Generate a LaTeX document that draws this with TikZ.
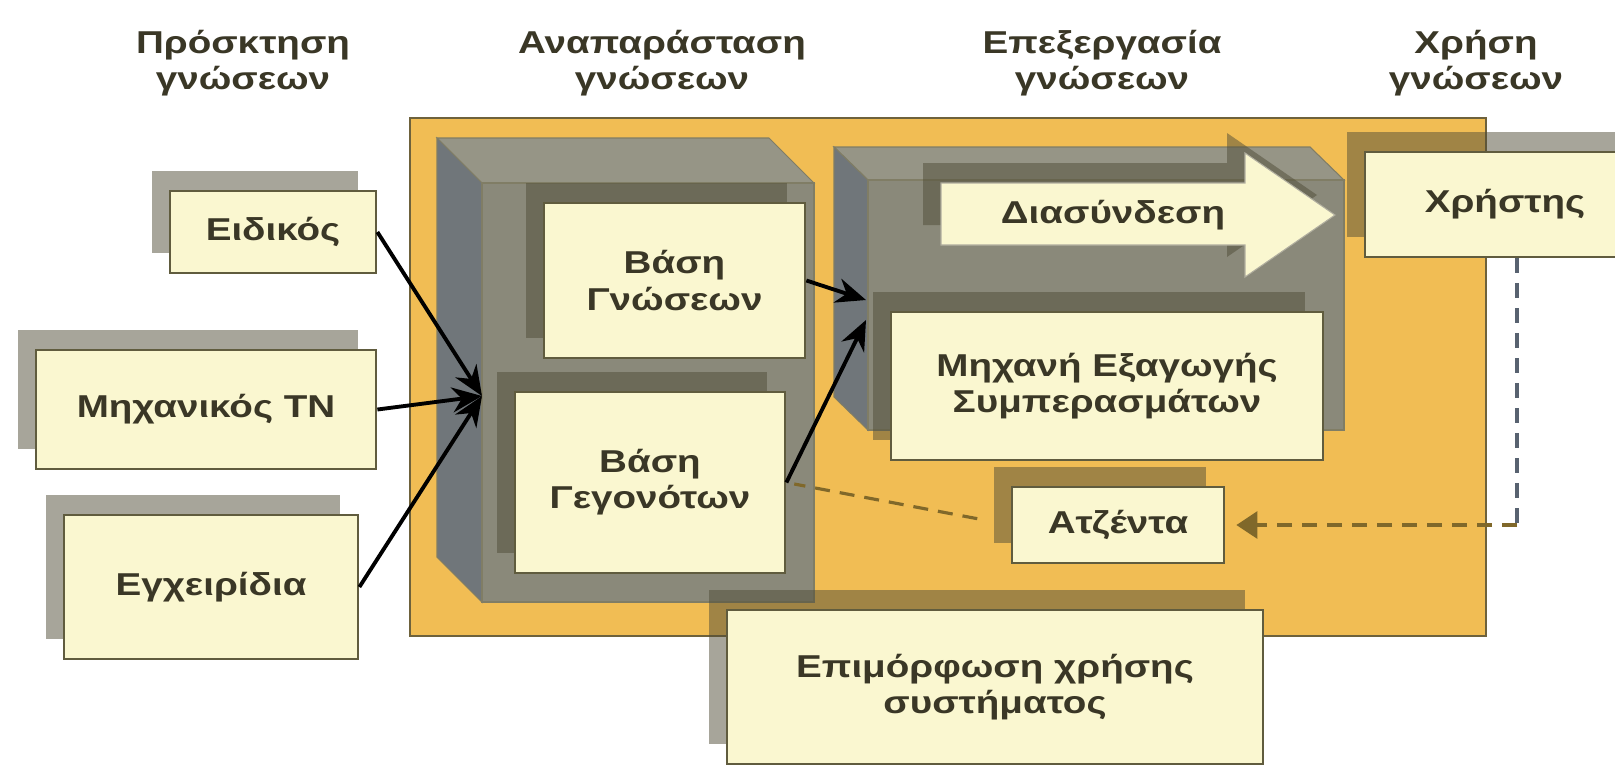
\documentclass[tikz,border=0pt]{standalone}
\usepackage{fontspec}
\newfontfamily\grfont{Liberation Sans}[FakeStretch=1.22]
\usetikzlibrary{arrows.meta, shadows, positioning}

\definecolor{boxfill}{RGB}{250,247,208}
\definecolor{boxline}{RGB}{96,92,62}
\definecolor{labeltext}{RGB}{58,55,38}
\definecolor{panelfill}{RGB}{241,189,84}
\definecolor{panelline}{RGB}{110,98,60}
\definecolor{frontgray}{RGB}{138,137,122}
\definecolor{topgray}{RGB}{150,149,134}
\definecolor{sidegray}{RGB}{112,118,122}
\definecolor{shadowgray}{RGB}{80,76,55}
\definecolor{dashbrown}{RGB}{128,104,42}
\definecolor{dashslate}{RGB}{88,98,112}

\begin{document}
\begin{tikzpicture}[x=0.02cm, y=-0.02cm, font=\grfont\bfseries\fontsize{18}{20.5}\selectfont, text=labeltext]
	\tikzset{
		raised/.style={drop shadow={shadow xshift=-0.36cm, shadow yshift=0.4cm, fill=shadowgray, opacity=0.5}},
		card/.style={draw=boxline, line width=1.6pt, fill=boxfill, align=center, inner sep=0pt},
		lifted/.style={card, raised},
		heading/.style={align=center},
		face/.style={draw=boxline!80, line width=0.6pt},
		link/.style={line width=2.2pt, -{Stealth[length=0.6cm, width=0.5cm]}},
		feedback/.style={line width=1.8pt, dash pattern=on 0.3cm off 0.2cm}
	}
	\clip (0,0) rectangle (1615,769);
	\fill[white] (0,0) rectangle (1615,769);

	% column titles
	\node[heading] (hacq) at (243,63) {Πρόσκτηση\\γνώσεων};
	\node[heading] (hrep) at (662,63) {Αναπαράσταση\\γνώσεων};
	\node[heading] (hproc) at (1102,63) {Επεξεργασία\\γνώσεων};
	\node[heading] (huse) at (1476,63) {Χρήση\\γνώσεων};

	% system panel
	\draw[fill=panelfill, draw=panelline, line width=1.6pt] (410,118) rectangle (1486,636);

	% knowledge block
	\filldraw[face, fill=topgray] (437,138) -- (769,138) -- (814,183) -- (482,183) -- cycle;
	\filldraw[face, fill=sidegray] (437,138) -- (482,183) -- (482,602) -- (437,557) -- cycle;
	\filldraw[face, fill=frontgray] (482,183) rectangle (814,602);

	% inference block
	\filldraw[face, fill=topgray] (834,147) -- (1310,147) -- (1344,180) -- (868,180) -- cycle;
	\filldraw[face, fill=sidegray] (834,147) -- (868,180) -- (868,430) -- (834,397) -- cycle;
	\filldraw[face, fill=frontgray] (868,180) rectangle (1344,430);

	\node[lifted, minimum width=5.22cm, minimum height=3.1cm] (kbase) at (674.5,280.5) {Βάση\\Γνώσεων};
	\node[lifted, minimum width=5.4cm, minimum height=3.62cm] (facts) at (650,482.5) {Βάση\\Γεγονότων};

	\path[raised, fill=boxfill, draw=boxline!50, line width=0.6pt] (941,183) -- (1245,183) -- (1245,153) -- (1335,215) -- (1245,277) -- (1245,245) -- (941,245) -- cycle;
	\node (iface) at (1113,215) {Διασύνδεση};

	\node[lifted, minimum width=8.64cm, minimum height=2.96cm] (engine) at (1107,386) {Μηχανή Εξαγωγής\\Συμπερασμάτων};
	\node[lifted, minimum width=4.24cm, minimum height=1.52cm] (agenda) at (1118,525) {Ατζέντα};
	\node[lifted, minimum width=10.72cm, minimum height=3.08cm] (training) at (995,687) {Επιμόρφωση χρήσης\\συστήματος};

	% sources
	\node[lifted, minimum width=4.12cm, minimum height=1.64cm] (expert) at (273,232) {Ειδικός};
	\node[lifted, minimum width=6.8cm, minimum height=2.38cm] (kengineer) at (206,409.5) {Μηχανικός ΤΝ};
	\node[lifted, minimum width=5.88cm, minimum height=2.88cm] (manuals) at (211,587) {Εγχειρίδια};

	\node[lifted, minimum width=5.6cm, minimum height=2.1cm] (user) at (1505,204.5) {Χρήστης};

	\coordinate (kbin) at (482,396);
	\coordinate (engin1) at (866,300);
	\coordinate (engin2) at (866,320);
	\coordinate (turn) at (1517,525);

	\path[link]
		(expert.east) edge (kbin)
		(kengineer.east) edge (kbin)
		(manuals.east) edge (kbin)
		(kbase.east) edge (engin1)
		(facts.east) edge (engin2);

	% user feedback
	\draw[feedback, draw=dashslate] (user.south -| turn) -- (turn);
	\draw[feedback, draw=dashbrown, -{Triangle[length=0.42cm, width=0.54cm]}, shorten >=0.22cm] (turn) -- (agenda.east);
	\draw[feedback, draw=dashbrown, shorten <=0.68cm, shorten >=0.16cm] (agenda.west) -- (facts.east);
\end{tikzpicture}
\end{document}
